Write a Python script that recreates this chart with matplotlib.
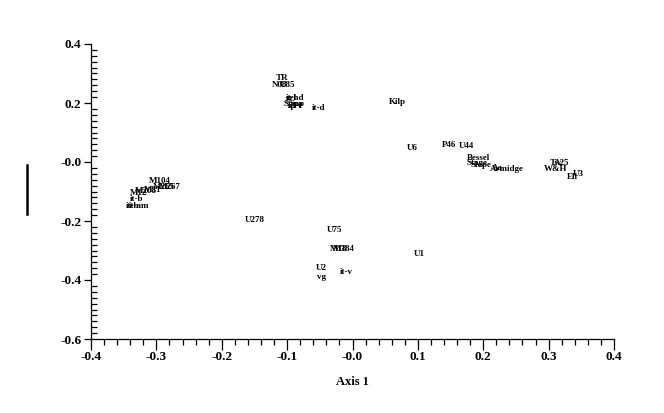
import matplotlib
matplotlib.use("Agg")
import matplotlib.pyplot as plt
from matplotlib.ticker import MultipleLocator, FixedLocator
from matplotlib.lines import Line2D

labels = ["TR", "N08", "U85", "grl", "it-hd", "Sppa", "Spp", "sp-e", "it-d", "Kilp",
          "U6", "P46", "U44", "Bessel", "Stage", "Slope", "Aa", "Armidge",
          "Tw", "A25", "W&H", "U3", "Ell",
          "M104", "M265", "M267", "M12", "M208", "M31", "it-b", "it-b", "it-am",
          "U278", "U75", "M18", "M384", "U1", "U2", "vg", "it-v"]
axis1 = [-0.107, -0.112, -0.100, -0.093, -0.088, -0.091, -0.085, -0.088, -0.052, 0.068,
         0.092, 0.148, 0.175, 0.192, 0.190, 0.196, 0.222, 0.236,
         0.311, 0.320, 0.310, 0.345, 0.336,
         -0.294, -0.288, -0.280, -0.327, -0.316, -0.306, -0.330, -0.336, -0.326,
         -0.149, -0.028, -0.021, -0.013, 0.102, -0.047, -0.047, -0.010]
axis2 = [0.285, 0.261, 0.261, 0.217, 0.217, 0.196, 0.196, 0.190, 0.183, 0.203,
         0.047, 0.058, 0.054, 0.014, -0.004, -0.010, -0.020, -0.024,
         -0.002, -0.002, -0.024, -0.041, -0.051,
         -0.064, -0.085, -0.085, -0.105, -0.099, -0.095, -0.125, -0.149, -0.149,
         -0.197, -0.231, -0.295, -0.295, -0.312, -0.359, -0.390, -0.373]

xticks = [-0.4, -0.3, -0.2, -0.1, 0.0, 0.1, 0.2, 0.3, 0.4]
xticklabels = ["-0.4", "-0.3", "-0.2", "-0.1", "-0.0", "0.1", "0.2", "0.3", "0.4"]
yticks = [-0.6, -0.4, -0.2, 0.0, 0.2, 0.4]
yticklabels = ["-0.6", "-0.4", "-0.2", "-0.0", "0.2", "0.4"]

plt.rcParams['font.family'] = ['Liberation Serif', 'DejaVu Serif']

fig = plt.figure(figsize=(6.64, 4.13), dpi=100)
ax = fig.add_axes([91/664, 1-339/413, (614-91)/664, (339-44)/413])
ax.set_xlim(-0.4, 0.4)
ax.set_ylim(-0.6, 0.4)

for lab, x, y in zip(labels, axis1, axis2):
    ax.text(x, y, lab, ha='center', va='center', fontsize=6.5, fontweight='bold')

ax.spines['top'].set_visible(False)
ax.spines['right'].set_visible(False)
ax.spines['left'].set_linewidth(0.9)
ax.spines['bottom'].set_linewidth(0.9)

ax.xaxis.set_major_locator(FixedLocator(xticks))
ax.set_xticklabels(xticklabels, fontsize=9.5, fontweight='bold')
ax.xaxis.set_minor_locator(MultipleLocator(0.02))
ax.yaxis.set_major_locator(FixedLocator(yticks))
ax.set_yticklabels(yticklabels, fontsize=9.5, fontweight='bold')
ax.yaxis.set_minor_locator(MultipleLocator(0.02))

ax.tick_params(axis='x', which='major', direction='out', length=8, width=0.9, pad=1)
ax.tick_params(axis='x', which='minor', direction='out', length=4, width=0.9)
ax.tick_params(axis='y', which='major', direction='out', length=5, width=0.9, pad=2)
ax.tick_params(axis='y', which='minor', direction='in', length=4, width=0.9)

ax.set_xlabel("Axis 1", fontsize=9, fontweight='bold', labelpad=9)

fig.add_artist(Line2D([27/664, 27/664], [1-165/413, 1-214/413], color='black', lw=1.8))

fig.savefig("out.png", dpi=100)
